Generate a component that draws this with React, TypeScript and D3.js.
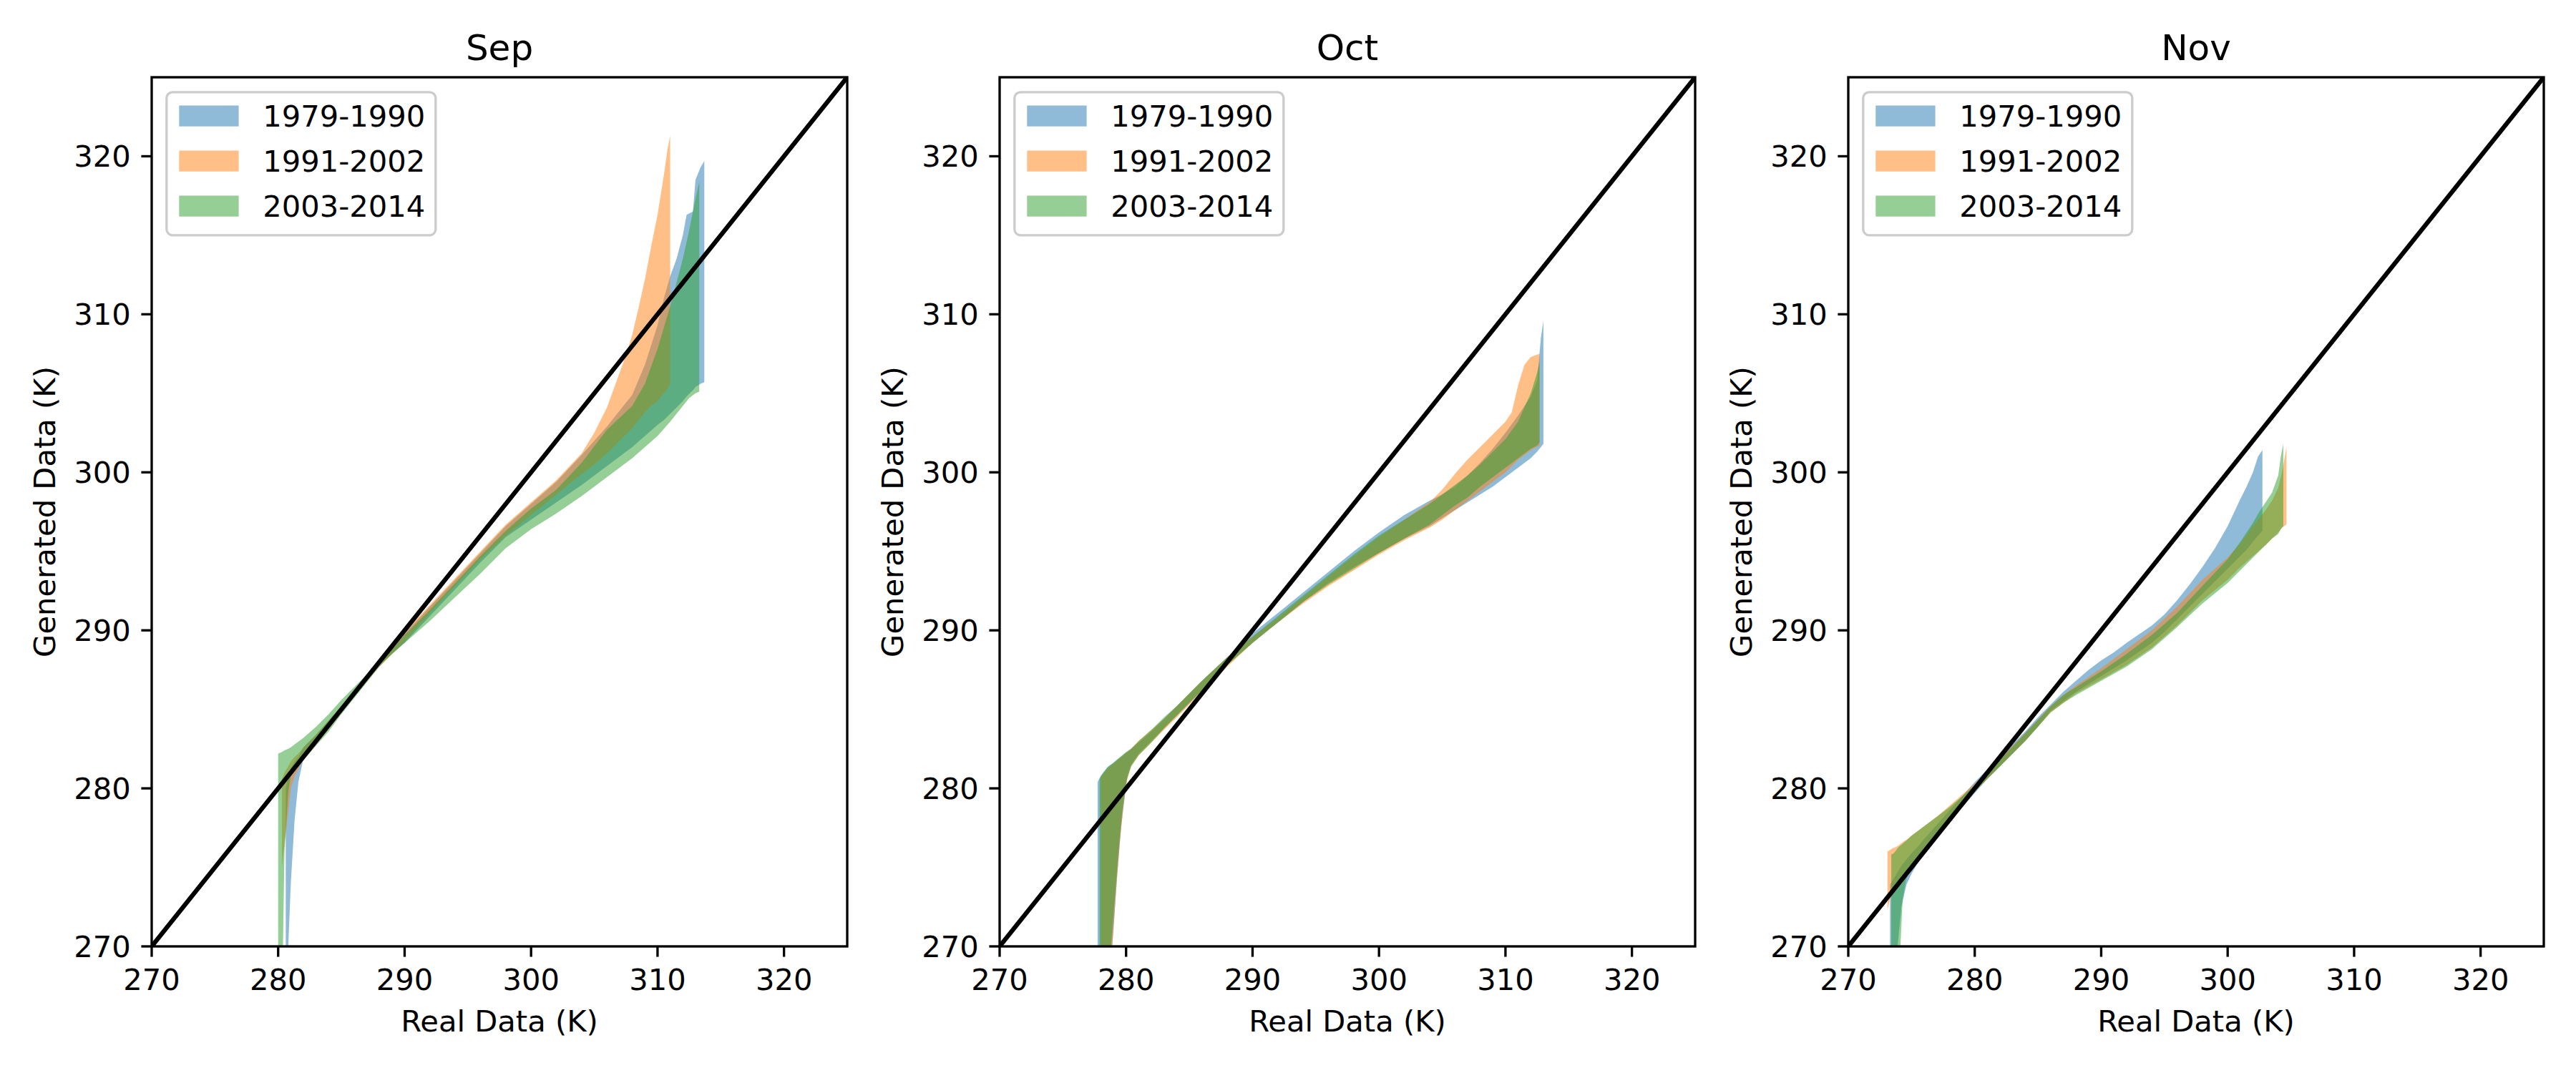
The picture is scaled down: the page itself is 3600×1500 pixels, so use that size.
import React, { useEffect } from 'react';
import * as d3 from 'd3';

const W = 3600;
const H = 1500;

const MONTHS = ['Sep', 'Oct', 'Nov'];
const PERIODS = ['1979-1990', '1991-2002', '2003-2014'];
const COLORS = ['#1f77b4', '#ff7f0e', '#2ca02c'];
const TICKS = [270, 280, 290, 300, 310, 320];
const DOMAIN: [number, number] = [270, 325];

// ---- Sep ----
const sepBlueX = [280.6, 280.8, 281.0, 281.3, 281.6, 282, 283, 284, 285, 286, 288, 290, 292, 294, 296, 298, 300, 302, 304, 306, 308, 309, 310, 310.5, 311, 311.5, 312, 312.3, 312.8, 313, 313.4, 313.7];
const sepBlueHi = [280.0, 280.8, 281.3, 281.7, 282.0, 282.6, 283.4, 284.3, 285.2, 286.1, 287.9, 289.8, 291.5, 293.2, 294.9, 296.6, 298.0, 299.4, 301.1, 302.9, 304.9, 306.8, 309.3, 311.0, 312.4, 313.5, 315.0, 316.3, 316.5, 318.5, 319.3, 319.7];
const sepBlueLo = [265, 270, 274, 278, 280.4, 281.9, 282.9, 283.9, 284.9, 285.9, 287.8, 289.2, 290.9, 292.6, 294.3, 295.9, 297.0, 298.1, 299.2, 300.4, 301.6, 302.3, 303.0, 303.3, 303.7, 304.1, 304.5, 304.8, 305.2, 305.4, 305.6, 305.7];

const sepOrangeX = [280.3, 280.5, 280.8, 281.0, 281.3, 281.6, 282, 283, 284, 285, 286, 288, 290, 292, 294, 296, 298, 300, 302, 304, 305, 306, 306.5, 307, 307.5, 308, 308.5, 309, 309.5, 310, 310.5, 310.8, 311.0];
const sepOrangeHi = [280.6, 281.0, 281.4, 281.7, 282.0, 282.2, 282.6, 283.4, 284.3, 285.2, 286.1, 287.9, 289.9, 291.6, 293.3, 295.0, 296.7, 298.1, 299.5, 301.2, 302.5, 304.1, 305.2, 306.3, 307.4, 308.7, 310.4, 312.2, 314.3, 316.3, 318.8, 320.5, 321.3];
const sepOrangeLo = [275.0, 276.5, 278.5, 280.0, 280.8, 281.2, 281.9, 282.8, 283.8, 284.8, 285.8, 287.7, 289.3, 291.1, 292.8, 294.5, 296.0, 297.3, 298.6, 299.9, 300.5, 301.2, 301.6, 302.0, 302.4, 302.8, 303.3, 303.8, 304.2, 304.5, 305.0, 305.3, 305.6];

const sepGreenX = [280.0, 280.3, 280.5, 280.8, 281.0, 281.5, 282, 283, 284, 285, 286, 287, 288, 289, 290, 292, 294, 296, 298, 300, 302, 304, 306, 308, 309, 310, 311, 311.5, 312, 312.5, 313, 313.3];
const sepGreenHi = [282.2, 282.3, 282.4, 282.5, 282.6, 282.9, 283.2, 283.9, 284.7, 285.6, 286.4, 287.2, 288.0, 288.8, 289.7, 291.3, 293.0, 294.7, 296.3, 297.7, 298.9, 300.6, 302.7, 304.2, 305.6, 307.8, 310.5, 312.0, 313.5, 315.3, 317.3, 318.4];
const sepGreenLo = [265, 266, 276, 279.8, 280.8, 281.3, 281.8, 282.7, 283.6, 284.7, 285.7, 286.7, 287.7, 288.5, 289.2, 290.6, 292.1, 293.6, 295.2, 296.4, 297.4, 298.5, 299.7, 300.9, 301.6, 302.3, 303.2, 303.7, 304.2, 304.7, 305.0, 305.1];

// ---- Oct ----
const octBlueX = [277.75, 278.0, 278.3, 278.6, 279.0, 279.3, 279.6, 279.9, 280.1, 280.4, 281, 282, 283, 284, 285, 286, 288, 290, 292, 294, 296, 298, 300, 302, 304, 305, 306, 307, 308, 309, 310, 311, 312, 312.5, 312.8, 313.0];
const octBlueHi = [280.4, 280.8, 281.1, 281.4, 281.6, 281.8, 282.0, 282.2, 282.3, 282.5, 282.9, 283.6, 284.4, 285.2, 286.0, 286.8, 288.3, 289.8, 291.1, 292.4, 293.7, 295.0, 296.2, 297.3, 298.2, 298.6, 299.1, 299.8, 300.6, 301.5, 302.5, 303.6, 304.8, 305.8, 308.5, 309.6];
const octBlueLo = [265, 265, 265, 267, 271, 274.5, 277.5, 279.5, 280.8, 281.5, 282.2, 283.0, 283.8, 284.6, 285.4, 286.2, 287.8, 289.2, 290.5, 291.8, 293.0, 294.0, 294.9, 295.8, 296.6, 297.1, 297.6, 298.1, 298.6, 299.1, 299.7, 300.3, 300.9, 301.3, 301.6, 301.8];

const octOrangeX = [278.0, 278.3, 278.6, 278.9, 279.2, 279.5, 279.8, 280.1, 280.4, 281, 282, 283, 284, 285, 286, 288, 290, 292, 294, 296, 298, 300, 302, 304, 305, 306, 307, 308, 309, 310, 310.5, 311, 311.5, 312, 312.7];
const octOrangeHi = [280.7, 281.0, 281.3, 281.5, 281.7, 281.9, 282.1, 282.3, 282.5, 283.0, 283.7, 284.4, 285.2, 286.0, 286.8, 288.3, 289.6, 290.8, 292.1, 293.4, 294.7, 295.9, 297.0, 298.1, 298.9, 299.9, 300.8, 301.6, 302.4, 303.2, 303.8, 305.5, 306.8, 307.3, 307.5];
const octOrangeLo = [265, 265, 266, 270, 273.5, 276.5, 279.0, 280.6, 281.4, 282.1, 282.9, 283.7, 284.5, 285.3, 286.1, 287.7, 289.2, 290.5, 291.7, 292.8, 293.8, 294.8, 295.7, 296.5, 297.0, 297.6, 298.2, 298.8, 299.4, 300.0, 300.4, 300.8, 301.1, 301.4, 301.7];

const octGreenX = [277.9, 278.2, 278.5, 278.8, 279.1, 279.4, 279.7, 280.0, 280.4, 281, 282, 283, 284, 285, 286, 288, 290, 292, 294, 296, 298, 300, 302, 304, 305, 306, 307, 308, 309, 310, 311, 312, 312.5, 312.7];
const octGreenHi = [280.6, 281.0, 281.3, 281.5, 281.7, 281.9, 282.1, 282.3, 282.5, 283.0, 283.7, 284.5, 285.2, 286.0, 286.8, 288.3, 289.6, 290.9, 292.2, 293.5, 294.8, 296.0, 297.0, 298.0, 298.6, 299.2, 299.8, 300.5, 301.3, 302.1, 303.2, 305.0, 306.3, 307.0];
const octGreenLo = [265, 265, 267, 270, 273, 276, 278.6, 280.4, 281.4, 282.1, 282.9, 283.8, 284.6, 285.4, 286.2, 287.8, 289.2, 290.5, 291.8, 292.9, 293.9, 294.9, 295.8, 296.7, 297.3, 297.9, 298.4, 299.1, 299.7, 300.3, 300.9, 301.5, 301.7, 301.9];

// ---- Nov ----
const novBlueX = [273.3, 273.6, 273.9, 274.2, 274.6, 275, 275.5, 276, 277, 278, 279, 280, 281, 282, 283, 284, 285, 286, 287, 288, 289, 290, 291, 292, 294, 295, 296, 297, 298, 299, 300, 301, 301.5, 302, 302.4, 302.75];
const novBlueHi = [273.9, 274.3, 274.7, 275.1, 275.5, 275.9, 276.3, 276.8, 277.7, 278.6, 279.5, 280.4, 281.2, 282.0, 282.8, 283.6, 284.5, 285.3, 286.1, 286.8, 287.5, 288.1, 288.6, 289.2, 290.3, 291.0, 291.9, 292.9, 294.0, 295.2, 296.6, 298.3, 299.1, 300.0, 301.0, 301.4];
const novBlueLo = [265, 265, 270, 272.5, 273.9, 274.6, 275.3, 275.9, 276.9, 277.9, 278.8, 279.7, 280.6, 281.4, 282.2, 283.0, 283.9, 284.9, 285.5, 286.1, 286.6, 287.1, 287.6, 288.1, 289.2, 289.9, 290.7, 291.5, 292.3, 293.1, 293.9, 294.7, 295.1, 295.6, 296.0, 296.3];

const novOrangeX = [273.1, 273.3, 273.5, 273.8, 274.0, 274.3, 274.7, 275, 276, 277, 278, 279, 280, 282, 284, 286, 287, 288, 290, 292, 294, 296, 298, 300, 301, 302, 303, 303.5, 304, 304.3, 304.65];
const novOrangeHi = [276.0, 276.1, 276.2, 276.3, 276.4, 276.6, 276.8, 277.0, 277.6, 278.2, 278.9, 279.6, 280.3, 281.9, 283.5, 285.2, 285.9, 286.5, 287.6, 288.8, 290.0, 291.5, 293.2, 294.6, 295.5, 296.6, 297.6, 298.2, 299.0, 300.0, 301.6];
const novOrangeLo = [272.3, 273.0, 273.4, 273.8, 274.1, 274.5, 274.9, 275.2, 276.1, 277.1, 278.1, 279.0, 279.8, 281.4, 283.0, 284.8, 285.4, 286.0, 286.9, 287.8, 288.9, 290.3, 291.9, 293.2, 294.0, 294.7, 295.4, 295.8, 296.2, 296.5, 296.7];

const novGreenX = [273.4, 273.6, 273.8, 274.0, 274.3, 274.6, 275, 276, 277, 278, 279, 280, 282, 284, 286, 287, 288, 290, 292, 294, 296, 298, 300, 301, 302, 302.5, 303, 303.5, 304, 304.2, 304.4];
const novGreenHi = [275.8, 275.9, 276.1, 276.3, 276.5, 276.7, 277.0, 277.6, 278.2, 278.8, 279.5, 280.2, 281.8, 283.5, 285.2, 285.9, 286.4, 287.4, 288.5, 289.7, 291.1, 292.8, 294.5, 295.6, 296.8, 297.5, 298.1, 298.7, 299.8, 301.0, 301.8];
const novGreenLo = [265, 265, 265, 268, 273.0, 274.3, 275.0, 275.9, 276.9, 277.9, 278.9, 279.8, 281.4, 283.0, 284.8, 285.4, 285.9, 286.8, 287.7, 288.8, 290.2, 291.7, 293.0, 293.8, 294.6, 295.0, 295.4, 295.8, 296.1, 296.4, 296.6];

type Band = { x: number[]; lo: number[]; hi: number[] };

const PANELS: Band[][] = [
  [
    { x: sepBlueX, lo: sepBlueLo, hi: sepBlueHi },
    { x: sepOrangeX, lo: sepOrangeLo, hi: sepOrangeHi },
    { x: sepGreenX, lo: sepGreenLo, hi: sepGreenHi },
  ],
  [
    { x: octBlueX, lo: octBlueLo, hi: octBlueHi },
    { x: octOrangeX, lo: octOrangeLo, hi: octOrangeHi },
    { x: octGreenX, lo: octGreenLo, hi: octGreenHi },
  ],
  [
    { x: novBlueX, lo: novBlueLo, hi: novBlueHi },
    { x: novOrangeX, lo: novOrangeLo, hi: novOrangeHi },
    { x: novGreenX, lo: novGreenLo, hi: novGreenHi },
  ],
];

// layout (px, matplotlib 12x5 in @ 300 dpi)
const PANEL_LEFT = [212, 1397, 2583];
const PANEL_W = 972;
const TOP = 108;
const BOTTOM = 1323;
const FS = 41.67;
const TICK_LEN = 14.6;
const FONT = 'DejaVu Sans, sans-serif';

function Panel({ idx }: { idx: number }) {
  const left = PANEL_LEFT[idx];
  const right = left + PANEL_W;
  const x = d3.scaleLinear().domain(DOMAIN).range([left, right]);
  const y = d3.scaleLinear().domain(DOMAIN).range([BOTTOM, TOP]);
  const clipId = `clip-${idx}`;

  const area = (b: Band) =>
    d3
      .area<number>()
      .x((i) => x(b.x[i]))
      .y0((i) => y(b.lo[i]))
      .y1((i) => y(b.hi[i]))(d3.range(b.x.length)) || '';

  // legend geometry
  const lgLeft = left + 20.8;
  const lgTop = TOP + 20.8;
  const rowY = [162, 225, 288].map((v) => v - 128.8 + lgTop);

  return (
    <g>
      <defs>
        <clipPath id={clipId}>
          <rect x={left} y={TOP} width={PANEL_W} height={BOTTOM - TOP} />
        </clipPath>
      </defs>
      <g clipPath={`url(#${clipId})`}>
        {PANELS[idx].map((b, k) => (
          <path key={k} d={area(b)} fill={COLORS[k]} fillOpacity={0.5} stroke="none" />
        ))}
        <line
          x1={x(DOMAIN[0])}
          y1={y(DOMAIN[0])}
          x2={x(DOMAIN[1])}
          y2={y(DOMAIN[1])}
          stroke="#000"
          strokeWidth={6.25}
        />
      </g>

      {/* spines */}
      <rect x={left} y={TOP} width={PANEL_W} height={BOTTOM - TOP} fill="none" stroke="#000" strokeWidth={3.33} />

      {/* x ticks */}
      {TICKS.map((t) => (
        <g key={`x${t}`}>
          <line x1={x(t)} x2={x(t)} y1={BOTTOM} y2={BOTTOM + TICK_LEN} stroke="#000" strokeWidth={3.33} />
          <text x={x(t)} y={BOTTOM + 61} textAnchor="middle" fontSize={FS} fontFamily={FONT}>
            {t}
          </text>
        </g>
      ))}
      {/* y ticks */}
      {TICKS.map((t) => (
        <g key={`y${t}`}>
          <line x1={left - TICK_LEN} x2={left} y1={y(t)} y2={y(t)} stroke="#000" strokeWidth={3.33} />
          <text x={left - 29.2} y={y(t) + 15} textAnchor="end" fontSize={FS} fontFamily={FONT}>
            {t}
          </text>
        </g>
      ))}

      <text x={(left + right) / 2} y={1442} textAnchor="middle" fontSize={FS} fontFamily={FONT}>
        Real Data (K)
      </text>
      <text
        x={left - 135}
        y={(TOP + BOTTOM) / 2}
        textAnchor="middle"
        fontSize={FS}
        fontFamily={FONT}
        transform={`rotate(-90, ${left - 135}, ${(TOP + BOTTOM) / 2})`}
      >
        Generated Data (K)
      </text>
      <text x={(left + right) / 2} y={84} textAnchor="middle" fontSize={50} fontFamily={FONT}>
        {MONTHS[idx]}
      </text>

      {/* legend */}
      <rect
        x={lgLeft}
        y={lgTop}
        width={376}
        height={200}
        rx={8.3}
        fill="#fff"
        fillOpacity={0.8}
        stroke="#cccccc"
        strokeWidth={3.33}
      />
      {PERIODS.map((p, k) => (
        <g key={p}>
          <rect x={lgLeft + 17.5} y={rowY[k] - 14.5} width={83.3} height={29.2} fill={COLORS[k]} fillOpacity={0.5} />
          <text x={lgLeft + 134.5} y={rowY[k] + 15} fontSize={FS} fontFamily={FONT}>
            {p}
          </text>
        </g>
      ))}
    </g>
  );
}

export default function App() {
  useEffect(() => {
    document.body.style.margin = '0';
  }, []);
  return (
    <svg width={W} height={H} viewBox={`0 0 ${W} ${H}`} style={{ display: 'block', background: '#fff' }}>
      <rect width={W} height={H} fill="#fff" />
      {MONTHS.map((m, i) => (
        <Panel key={m} idx={i} />
      ))}
    </svg>
  );
}
